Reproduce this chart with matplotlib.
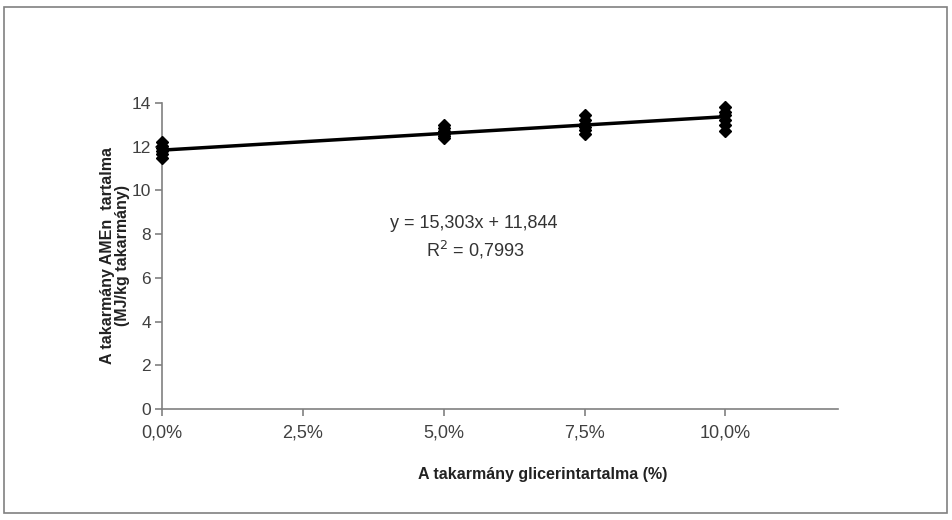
import numpy as np
import matplotlib.pyplot as plt
from matplotlib.patches import Rectangle

plt.rcParams['font.family'] = ['Liberation Sans', 'DejaVu Sans']

# glicerin content (fraction) and measured AMEn values
levels = [0.0, 0.05, 0.075, 0.10]
amen = [
    [11.5, 11.65, 11.8, 11.95, 12.05, 12.2],
    [12.4, 12.5, 12.6, 12.7, 12.85, 13.0],
    [12.6, 12.75, 12.9, 13.05, 13.2, 13.45],
    [12.7, 13.0, 13.2, 13.45, 13.6, 13.8],
]
slope = 15.303
intercept = 11.844
r2 = 0.7993

xticks = [0.0, 0.025, 0.05, 0.075, 0.10]
xticklabels = ['0,0%', '2,5%', '5,0%', '7,5%', '10,0%']
yticks = [0, 2, 4, 6, 8, 10, 12, 14]

fig = plt.figure(figsize=(9.52, 5.2), dpi=100)
ax = fig.add_axes([162 / 952, 1 - 409 / 520, (838 - 162) / 952, (409 - 103) / 520])

xs = np.concatenate([[lv] * len(v) for lv, v in zip(levels, amen)])
ys = np.concatenate(amen)
ax.plot(xs, ys, linestyle='none', marker='D', markersize=6.5, color='black',
        clip_on=False, zorder=3)

xl = np.array([0.0, 0.10])
ax.plot(xl, slope * xl + intercept, color='black', linewidth=2.5, clip_on=False, zorder=4)

ax.set_xlim(0, 0.12)
ax.set_ylim(0, 14)
ax.set_xticks(xticks)
ax.set_xticklabels(xticklabels)
ax.set_yticks(yticks)

for s in ['top', 'right']:
    ax.spines[s].set_visible(False)
for s in ['left', 'bottom']:
    ax.spines[s].set_color('#808080')
    ax.spines[s].set_linewidth(1.2)
ax.tick_params(colors='#808080', labelcolor='#404040', labelsize=13, length=5, width=1.2)
ax.tick_params(axis='x', pad=6)
ax.tick_params(axis='y', pad=3, labelsize=12.5)

ax.text(474 / 952, 1 - 223 / 520, 'y = 15,303x + 11,844', transform=fig.transFigure,
        ha='center', va='center', fontsize=13, color='#333333')
ax.text(475 / 952, 1 - 250 / 520, 'R$^2$ = 0,7993', transform=fig.transFigure,
        ha='center', va='center', fontsize=13, color='#333333')

fig.text(115 / 952, 1 - 256 / 520, 'A takarmány AMEn  tartalma\n(MJ/kg takarmány)',
         rotation=90, ha='center', va='center', fontsize=11.5, fontweight='bold',
         color='#222222', linespacing=1.05)
fig.text(543 / 952, 1 - 475 / 520, 'A takarmány glicerintartalma (%)',
         ha='center', va='center', fontsize=11.5, fontweight='bold', color='#222222')

fig.patches.append(Rectangle((4 / 952, 7 / 520), 943 / 952, 506 / 520,
                             transform=fig.transFigure, fill=False,
                             edgecolor='#808080', linewidth=1.2))

fig.savefig('out.png', dpi=100)
